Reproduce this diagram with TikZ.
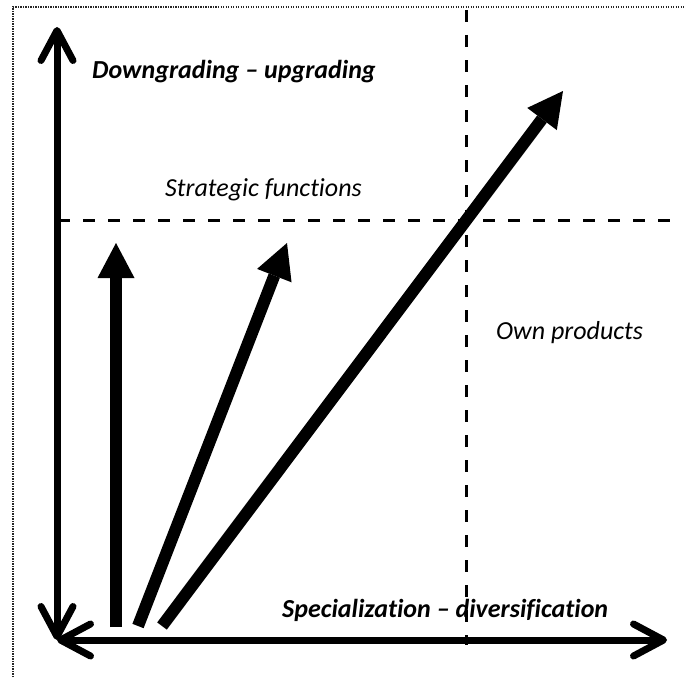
\documentclass[tikz,border=0pt]{standalone}
\usepackage{fontspec}
\setmainfont{Carlito}[Ligatures=NoCommon]
\usetikzlibrary{arrows.meta}
\tikzset{
  axis/.style={line width=7pt},
  barb/.tip={Straight Barb[length=30pt,width=32pt,round]},
  thickarrow/.style={line width=12pt,-{Triangle[length=35pt,width=37pt,line width=0pt]}},
  guide/.style={line width=3pt,dash pattern=on 12pt off 13pt},
  frameline/.style={line width=1.5pt,dash pattern=on 1.4pt off 1.1pt,black!85},
  axislabel/.style={font=\fontsize{26}{30}\selectfont\bfseries\itshape,inner sep=0pt,anchor=base west},
  zonelabel/.style={font=\fontsize{26}{30}\selectfont\itshape,inner sep=0pt,anchor=base west}
}
\begin{document}
\begin{tikzpicture}[x=1pt,y=-1pt]
\useasboundingbox (0,0) rectangle (684,677);
% frame
\coordinate (f1) at (13,677);
\coordinate (f2) at (13,7);
\coordinate (f3) at (684,7);
\draw[frameline] (f1) -- (f2) -- (f3);
% guide lines
\coordinate (hg1) at (58,220);
\coordinate (hg2) at (672,220);
\coordinate (vg1) at (466,10);
\coordinate (vg2) at (466,645);
\draw[guide] (hg1) -- (hg2);
\draw[guide] (vg1) -- (vg2);
% axes
\coordinate (O) at (57,640);
\coordinate (ytop) at (57,27);
\coordinate (xend) at (667,640);
\draw[axis,{barb}-{barb}] (O) -- (ytop);
\draw[axis,{barb}-{barb}] (O) -- (xend);
% thick arrows
\coordinate (a1s) at (116,627);
\coordinate (a1e) at (116,243);
\coordinate (a2s) at (138,626);
\coordinate (a2e) at (287,243);
\coordinate (a3s) at (162,626);
\coordinate (a3e) at (563,91);
\draw[thickarrow] (a1s) -- (a1e);
\draw[thickarrow] (a2s) -- (a2e);
\draw[thickarrow] (a3s) -- (a3e);
% labels
\node[axislabel] (lup) at (92,78) {Downgrading – upgrading};
\node[axislabel] (ldiv) at (282,617) {Specialization – diversification};
\node[zonelabel] (lstr) at (165,196) {Strategic functions};
\node[zonelabel] (lown) at (496,339) {Own products};
\end{tikzpicture}
\end{document}
